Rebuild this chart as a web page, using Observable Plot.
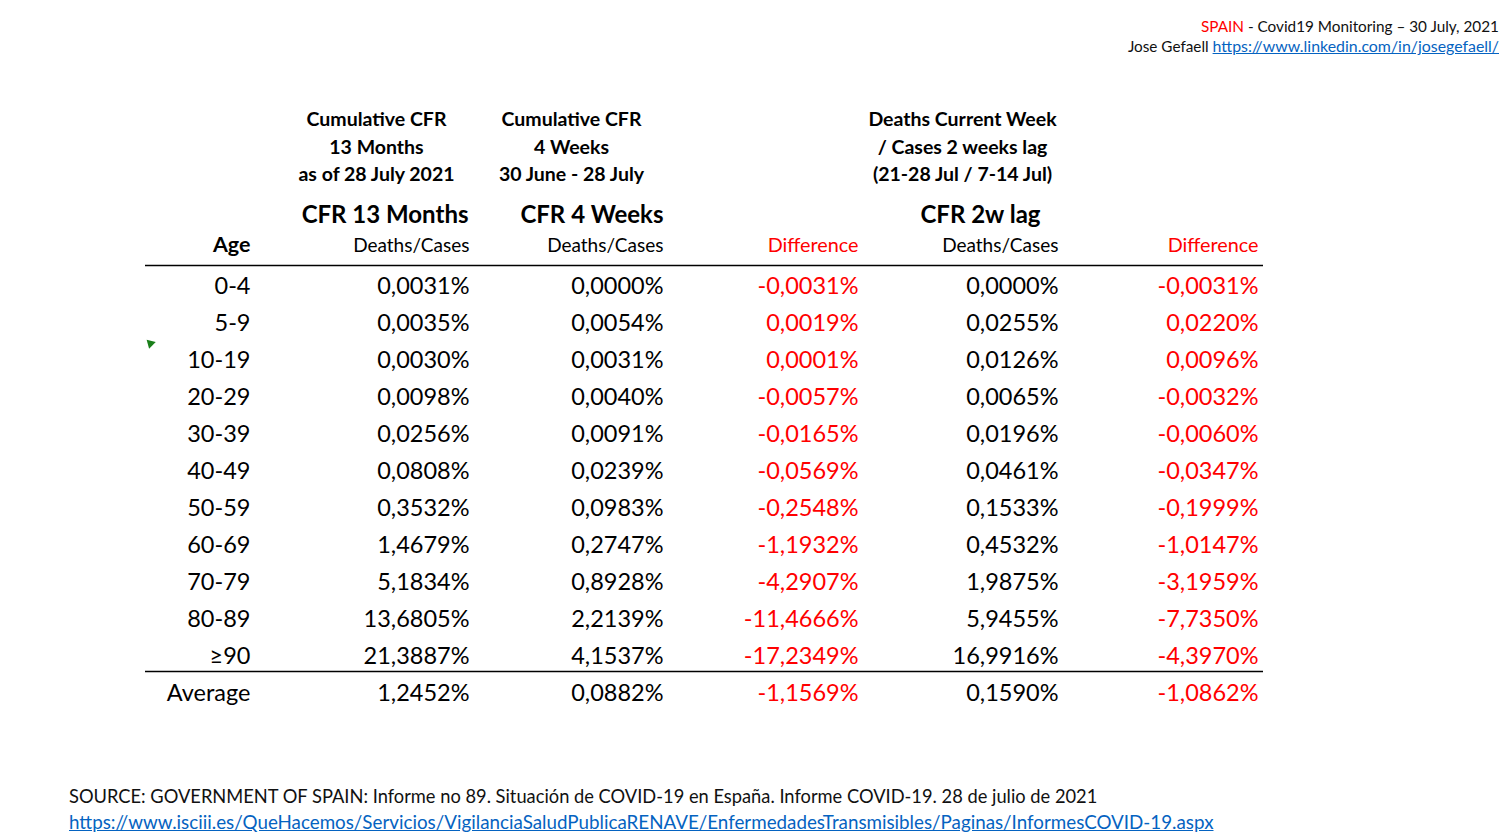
<!DOCTYPE html>
<html>
<head>
<meta charset="utf-8">
<script src="https://cdn.jsdelivr.net/npm/d3@7"></script>
<script src="https://cdn.jsdelivr.net/npm/@observablehq/plot@0.6"></script>
<style>
  html, body { margin: 0; padding: 0; background: #fff; }
  body { width: 1509px; height: 834px; overflow: hidden; font-family: Lato, "Open Sans", sans-serif; color: #111; }
  #title { height: 62px; box-sizing: border-box; padding-top: 16px; padding-right: 10px; text-align: right; font-size: 15.3px; line-height: 20px; white-space: nowrap; }
  #title a, #footer a { color: #0563C1; text-decoration: underline; }
  #title a { font-size: 15.9px; }
  #footer { box-sizing: border-box; padding-top: 22px; padding-left: 69px; font-size: 18.3px; line-height: 25px; white-space: nowrap; }
  #footer a { font-size: 18.8px; }
  svg { display: block; }
</style>
</head>
<body>
<div id="title">
  <div><span style="color:#FF0000">SPAIN</span> - Covid19 Monitoring – 30 July, 2021</div>
  <div>Jose Gefaell <a href="https://www.linkedin.com/in/josegefaell/">https://www.linkedin.com/in/josegefaell/</a></div>
</div>
<div id="chart"></div>
<div id="footer">
  <div>SOURCE: GOVERNMENT OF SPAIN: Informe no 89. Situación de COVID-19 en España. Informe COVID-19. 28 de julio de 2021</div>
  <div><a href="https://www.isciii.es/QueHacemos/Servicios/VigilanciaSaludPublicaRENAVE/EnfermedadesTransmisibles/Paginas/InformesCOVID-19.aspx">https://www.isciii.es/QueHacemos/Servicios/VigilanciaSaludPublicaRENAVE/EnfermedadesTransmisibles/Paginas/InformesCOVID-19.aspx</a></div>
</div>
<script>
// ---- Data ----
const ages = ["0-4", "5-9", "10-19", "20-29", "30-39", "40-49", "50-59", "60-69", "70-79", "80-89", "≥90", "Average"];
const cfr13Months = [0.0031, 0.0035, 0.0030, 0.0098, 0.0256, 0.0808, 0.3532, 1.4679, 5.1834, 13.6805, 21.3887, 1.2452];
const cfr4Weeks   = [0.0000, 0.0054, 0.0031, 0.0040, 0.0091, 0.0239, 0.0983, 0.2747, 0.8928, 2.2139, 4.1537, 0.0882];
const diff4Weeks  = [-0.0031, 0.0019, 0.0001, -0.0057, -0.0165, -0.0569, -0.2548, -1.1932, -4.2907, -11.4666, -17.2349, -1.1569];
const cfr2wLag    = [0.0000, 0.0255, 0.0126, 0.0065, 0.0196, 0.0461, 0.1533, 0.4532, 1.9875, 5.9455, 16.9916, 0.1590];
const diff2wLag   = [-0.0031, 0.0220, 0.0096, -0.0032, -0.0060, -0.0347, -0.1999, -1.0147, -3.1959, -7.7350, -4.3970, -1.0862];

const groupHeaders = [
  "Cumulative CFR\n13 Months\nas of 28 July 2021",
  "Cumulative CFR\n4 Weeks\n30 June - 28 July",
  "Deaths Current Week\n/ Cases 2 weeks lag\n(21-28 Jul / 7-14 Jul)"
];
const columnTitles = ["CFR 13 Months", "CFR 4 Weeks", "CFR 2w lag"];
const columnSubtitles = ["Age", "Deaths/Cases", "Deaths/Cases", "Difference", "Deaths/Cases", "Difference"];

// ---- Layout (positions, not data) ----
const colRight = [250, 469, 663, 858, 1058, 1258];
const groupCenter = [376, 571, 962];
const titleX = [468, 663, 980];
const titleAnchor = ["end", "end", "middle"];
const tableLeft = 145, tableRight = 1263;

const fmt = v => v.toFixed(4).replace(".", ",") + "%";
const rows = ages.map((age, i) => ({
  age, m13: cfr13Months[i], w4: cfr4Weeks[i], d4: diff4Weeks[i], lag: cfr2wLag[i], d2: diff2wLag[i]
}));
const black = "#000";
const red = "#FF0000";

const numCol = (key, ci, color) => Plot.text(rows, {
  x: colRight[ci], y: "age", text: d => fmt(d[key]), textAnchor: "end",
  fontSize: 23.5, fill: color
});

const groups = groupHeaders.map((t, i) => ({t, x: groupCenter[i]}));
const titles = columnTitles.map((t, i) => ({t, x: titleX[i], a: titleAnchor[i]}));
const subs = columnSubtitles.map((t, i) => ({t, x: colRight[i], i}));

const chart = Plot.plot({
  width: 1509,
  height: 700,
  margin: 0,
  style: {fontFamily: "Lato, 'Open Sans', sans-serif", background: "#fff", color: black},
  x: {type: "linear", domain: [0, 1509], range: [0, 1509], axis: null},
  y: {type: "point", domain: ages, range: [223, 632], padding: 0, axis: null},
  marks: [
    // group headers
    Plot.text(groups, {x: "x", frameAnchor: "top", dy: 82.5, text: "t", lineAnchor: "middle",
      lineHeight: 1.41, fontSize: 19.5, fontWeight: "bold", fill: black, textAnchor: "middle"}),
    // column titles
    Plot.text(titles.filter(d => d.a === "end"), {x: "x", frameAnchor: "top", dy: 153, text: "t", lineAnchor: "middle",
      fontSize: 24, fontWeight: "bold", fill: black, textAnchor: "end"}),
    Plot.text(titles.filter(d => d.a === "middle"), {x: "x", frameAnchor: "top", dy: 153, text: "t", lineAnchor: "middle",
      fontSize: 24, fontWeight: "bold", fill: black, textAnchor: "middle"}),
    // subtitles
    Plot.text(subs.filter(d => d.i === 0), {x: "x", frameAnchor: "top", dy: 183, text: "t", lineAnchor: "middle",
      fontSize: 21.5, fontWeight: "bold", fill: black, textAnchor: "end"}),
    Plot.text(subs.filter(d => d.t === "Deaths/Cases"), {x: "x", frameAnchor: "top", dy: 183, text: "t", lineAnchor: "middle",
      fontSize: 19, fill: black, textAnchor: "end"}),
    Plot.text(subs.filter(d => d.t === "Difference"), {x: "x", frameAnchor: "top", dy: 183, text: "t", lineAnchor: "middle",
      fontSize: 19.8, fill: red, textAnchor: "end"}),
    // rules
    Plot.ruleY([ages[0]], {y: d => d, x1: tableLeft, x2: tableRight, dy: -21, stroke: "#000", strokeWidth: 1.5}),
    Plot.ruleY([ages[ages.length - 1]], {y: d => d, x1: tableLeft, x2: tableRight, dy: -22, stroke: "#000", strokeWidth: 1.5}),
    // small green cell marker
    Plot.dot([ages[2]], {y: d => d, x: 150, dy: -17, symbol: "triangle", r: 3.5, fill: "#1a7f1a", rotate: -45}),
    // age column
    Plot.text(rows, {x: colRight[0], y: "age", text: "age", textAnchor: "end", fontSize: 23.5, fill: black}),
    numCol("m13", 1, black),
    numCol("w4", 2, black),
    numCol("d4", 3, red),
    numCol("lag", 4, black),
    numCol("d2", 5, red)
  ]
});
document.getElementById("chart").appendChild(chart);
</script>
</body>
</html>
